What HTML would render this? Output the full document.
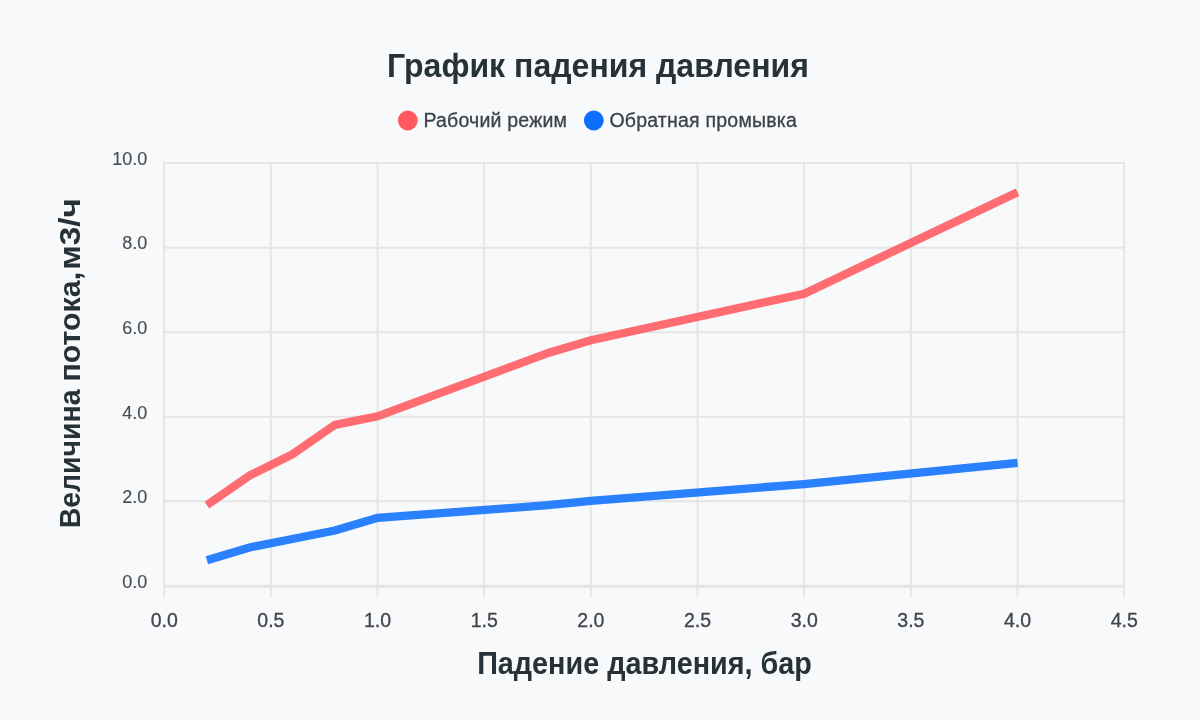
<!DOCTYPE html>
<html lang="ru">
<head>
<meta charset="utf-8">
<title>График падения давления</title>
<style>
html,body{margin:0;padding:0;background:#f8f9fa;}
body{width:1200px;height:720px;overflow:hidden;}
svg{display:block;filter:blur(0.4px);}
text{font-family:"Liberation Sans",Arial,Helvetica,sans-serif;}
.tick{font-size:19.5px;fill:#41464b;stroke:#41464b;stroke-width:0.3px;}
.leg{font-size:19.5px;fill:#3d4247;stroke:#3d4247;stroke-width:0.3px;letter-spacing:0.22px;}
.ttl{font-weight:bold;fill:#263238;}
</style>
</head>
<body>
<svg width="1200" height="720" viewBox="0 0 1200 720">
<rect x="0" y="0" width="1200" height="720" fill="#f8f9fa"/>
<g stroke="#e5e5e5" stroke-width="2.0" fill="none">
<line x1="164.2" y1="162.3" x2="164.2" y2="597"/>
<line x1="270.87" y1="162.3" x2="270.87" y2="597"/>
<line x1="377.53" y1="162.3" x2="377.53" y2="597"/>
<line x1="484.2" y1="162.3" x2="484.2" y2="597"/>
<line x1="590.87" y1="162.3" x2="590.87" y2="597"/>
<line x1="697.53" y1="162.3" x2="697.53" y2="597"/>
<line x1="804.2" y1="162.3" x2="804.2" y2="597"/>
<line x1="910.87" y1="162.3" x2="910.87" y2="597"/>
<line x1="1017.53" y1="162.3" x2="1017.53" y2="597"/>
<line x1="1124.2" y1="162.3" x2="1124.2" y2="597"/>
<line x1="163.4" y1="163.1" x2="1125" y2="163.1"/>
<line x1="163.4" y1="247.7" x2="1125" y2="247.7"/>
<line x1="163.4" y1="332.3" x2="1125" y2="332.3"/>
<line x1="163.4" y1="416.8" x2="1125" y2="416.8"/>
<line x1="163.4" y1="501.15" x2="1125" y2="501.15"/>
</g>
<rect x="163.4" y="584.7" width="961.6" height="3.1" fill="#e5e5e5"/>
<polyline transform="translate(0,-0.55)" points="206.87,560.72 249.53,548.03 292.20,539.57 334.87,531.11 377.53,518.42 548.20,505.73 590.87,501.50 804.20,484.58 1017.53,463.43" fill="none" stroke="#0d6efd" stroke-opacity="0.88" stroke-width="8.3" stroke-linejoin="miter" stroke-linecap="butt"/>
<polyline transform="translate(0,-0.55)" points="206.87,505.73 249.53,476.12 292.20,454.97 334.87,425.36 377.53,416.90 548.20,353.45 590.87,340.76 804.20,294.23 1017.53,192.71" fill="none" stroke="#ff5a5f" stroke-opacity="0.89" stroke-width="8.3" stroke-linejoin="miter" stroke-linecap="butt"/>
<text class="tick" x="147.2" y="587.80" text-anchor="end" style="font-size:18px;fill:#484d52;stroke-width:0.12px">0.0</text>
<text class="tick" x="147.2" y="503.20" text-anchor="end" style="font-size:18px;fill:#484d52;stroke-width:0.12px">2.0</text>
<text class="tick" x="147.2" y="418.60" text-anchor="end" style="font-size:18px;fill:#484d52;stroke-width:0.12px">4.0</text>
<text class="tick" x="147.2" y="334.00" text-anchor="end" style="font-size:18px;fill:#484d52;stroke-width:0.12px">6.0</text>
<text class="tick" x="147.2" y="249.40" text-anchor="end" style="font-size:18px;fill:#484d52;stroke-width:0.12px">8.0</text>
<text class="tick" x="147.2" y="164.80" text-anchor="end" style="font-size:18px;fill:#484d52;stroke-width:0.12px">10.0</text>
<text class="tick" x="164.2" y="627.2" text-anchor="middle">0.0</text>
<text class="tick" x="270.87" y="627.2" text-anchor="middle">0.5</text>
<text class="tick" x="377.53" y="627.2" text-anchor="middle">1.0</text>
<text class="tick" x="484.2" y="627.2" text-anchor="middle">1.5</text>
<text class="tick" x="590.87" y="627.2" text-anchor="middle">2.0</text>
<text class="tick" x="697.53" y="627.2" text-anchor="middle">2.5</text>
<text class="tick" x="804.2" y="627.2" text-anchor="middle">3.0</text>
<text class="tick" x="910.87" y="627.2" text-anchor="middle">3.5</text>
<text class="tick" x="1017.53" y="627.2" text-anchor="middle">4.0</text>
<text class="tick" x="1124.2" y="627.2" text-anchor="middle">4.5</text>
<text class="ttl" transform="translate(598,76.9) scale(1,1.065)" text-anchor="middle" style="font-size:32.05px">График падения давления</text>
<circle cx="407.8" cy="120.5" r="9.9" fill="#ff5a5f"/>
<text class="leg" x="423.4" y="127.0">Рабочий режим</text>
<circle cx="593.8" cy="120.5" r="9.9" fill="#0d6efd"/>
<text class="leg" x="609.4" y="127.0">Обратная промывка</text>
<text class="ttl" transform="translate(644.5,673.9) scale(1,1.075)" text-anchor="middle" style="font-size:28.8px">Падение давления, бар</text>
<text class="ttl" transform="translate(79.9,0) rotate(-90)" style="font-size:30px"><tspan x="-528.3" textLength="138.75" lengthAdjust="spacingAndGlyphs">Величина</tspan> <tspan x="-381.6" textLength="109.66" lengthAdjust="spacingAndGlyphs">потока,</tspan> <tspan x="-269.8" textLength="71.75" lengthAdjust="spacingAndGlyphs">м3/ч</tspan></text>
</svg>
</body>
</html>
